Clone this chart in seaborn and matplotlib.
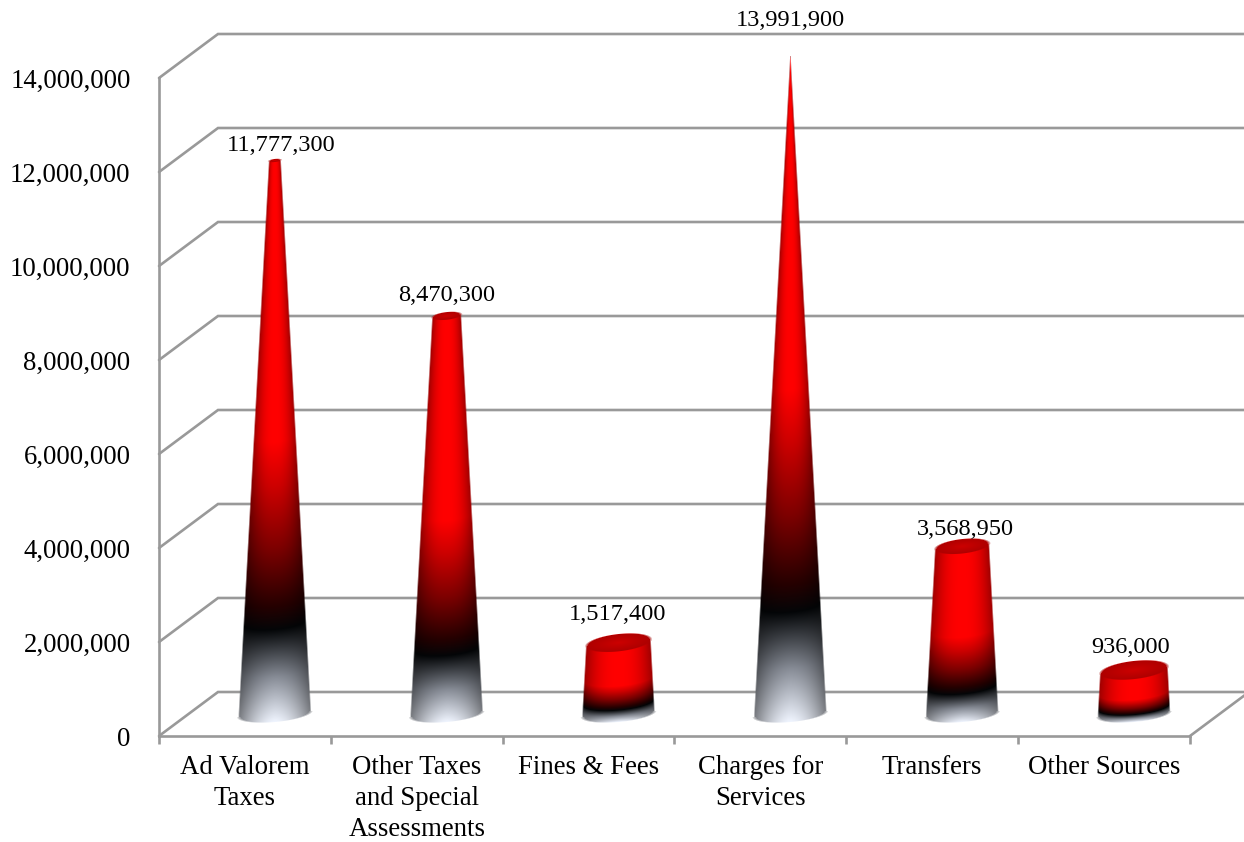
import numpy as np
import pandas as pd
import matplotlib
matplotlib.use("Agg")
import matplotlib.pyplot as plt
from matplotlib.lines import Line2D
from matplotlib.transforms import IdentityTransform
import seaborn as sns

# Revenue by source
categories = ["Ad Valorem\nTaxes", "Other Taxes\nand Special\nAssessments", "Fines & Fees",
              "Charges for\nServices", "Transfers", "Other Sources"]
revenues = [11777300, 8470300, 1517400, 13991900, 3568950, 936000]
axis_ticks = [0, 2000000, 4000000, 6000000, 8000000, 10000000, 12000000, 14000000]

# Hand placement of the value labels, in pixels relative to the cone top
label_nudge = [(6, 15), (0, 20), (-1, 28), (0, 36), (3, 17), (-3, 23)]

W, H = 1244, 842
DEPTH_X, DEPTH_Y = 59, 44          # depth of the fake 3D box
GRID = "#999999"
LINE_W = 1.9
BASE_HALF_WIDTH = 36.0

sns.set_theme(style="white")
plt.rcParams["font.family"] = ["Liberation Serif", "DejaVu Serif"]

fig = plt.figure(figsize=(W / 100, H / 100), dpi=100, facecolor="white")
ax = fig.add_axes([159 / W, (H - 736) / H, 1031 / W, 658 / H])

df = pd.DataFrame({"source": categories, "revenue": revenues})
sns.barplot(data=df, x="source", y="revenue", ax=ax)
bars = list(ax.patches)
for bar in bars:
    bar.set_visible(False)

ax.set_xlim(-0.5, len(categories) - 0.5)
ax.set_ylim(axis_ticks[0], axis_ticks[-1])
ax.set_autoscale_on(False)
ax.set_xlabel("")
ax.set_ylabel("")
ax.set_facecolor("none")
for name in ("top", "right"):
    ax.spines[name].set_visible(False)
for name in ("left", "bottom"):
    ax.spines[name].set_color(GRID)
    ax.spines[name].set_linewidth(LINE_W)

ax.set_yticks(axis_ticks)
ax.set_yticklabels([f"{v:,}" for v in axis_ticks], fontsize=19.3, color="black")
ax.tick_params(axis="y", length=0, pad=20.5)
ax.set_xticks(range(len(categories)))
ax.set_xticklabels(categories, fontsize=19.3, color="black", linespacing=1.3)
ax.tick_params(axis="x", which="major", length=0, pad=14)
ax.set_xticks(np.arange(-0.5, len(categories)), minor=True)
ax.tick_params(axis="x", which="minor", length=5.5, width=LINE_W, color=GRID, bottom=True)


def to_px(x, y):
    return ax.transData.transform((x, y))


# Wall and floor lines of the box
x_left, x_right = ax.get_xlim()
for v in axis_ticks:
    fx, fy = to_px(x_left, v)
    xs = [fx, fx + DEPTH_X, W + 10]
    ys = [fy, fy + DEPTH_Y, fy + DEPTH_Y]
    ax.add_line(Line2D(xs, ys, transform=IdentityTransform(), color=GRID, lw=LINE_W,
                       clip_on=False, zorder=1, solid_joinstyle="miter"))
rx, ry = to_px(x_right, 0)
ax.add_line(Line2D([rx, rx + DEPTH_X], [ry, ry + DEPTH_Y], transform=IdentityTransform(),
                   color=GRID, lw=LINE_W, clip_on=False, zorder=1))

# Vertical colour ramp along a cone: t runs from base (0) to top (1)
ramp_t = [0.0, 0.08, 0.165, 0.21, 0.31, 0.42, 0.50, 1.0]
ramp_r = [240, 135, 4, 40, 125, 205, 255, 255]
ramp_g = [245, 140, 6, 0, 0, 0, 0, 0]
ramp_b = [255, 150, 8, 0, 0, 0, 0, 0]

tip_height = to_px(0, max(revenues))[1] - to_px(0, 0)[1]
tilt = np.tan(np.radians(5.0))


def soft(d):
    return np.clip(d + 0.5, 0.0, 1.0)


def draw_cone(center, value, zorder=3):
    cx, cy = to_px(center, 0)
    cx += DEPTH_X / 2 + 0.5
    cy += DEPTH_Y / 2
    height = to_px(center, value)[1] - to_px(center, 0)[1]

    x0, x1 = int(cx - 46), int(cx + 46)
    y0, y1 = int(cy - 14), int(cy + height + 16)
    X, Y = np.meshgrid(np.arange(x0, x1) + 0.5, np.arange(y0, y1) + 0.5)
    dx, dy = X - cx, Y - cy

    half = np.maximum(BASE_HALF_WIDTH * (1 - np.maximum(dy, 0) / tip_height), 0.01)
    u = np.clip(dx / half, -1, 1)
    tilted = dy - tilt * dx
    bulge = 0.22 * half * np.sqrt(1 - u ** 2)
    t = np.clip((tilted + bulge) / height, 0, 1)

    # Lower, lighter part of the ramp falls off more broadly across the width
    shade_low = 1 - 0.50 * np.abs(u) ** 1.7
    shade_high = 1 - 0.38 * np.abs(u) ** 2.4
    mix = np.clip(t / 0.2, 0, 1)[..., None]
    rgb = np.dstack([np.interp(t, ramp_t, ramp_r), np.interp(t, ramp_t, ramp_g),
                     np.interp(t, ramp_t, ramp_b)])
    rgb = rgb * ((1 - mix) * shade_low[..., None] + mix * shade_high[..., None])

    # Outline: tapered sides, rounded base
    side = np.clip((half - np.abs(dx)) / 1.6 + 0.5, 0, 1)
    base_rad = np.hypot(dx / BASE_HALF_WIDTH, tilted / 8.0)
    base = soft((1 - base_rad) * 8.0)
    alpha = np.where(tilted >= 0, side, base)

    # Cut the body at the top plane and lay the darker cap over it
    top_half = max(BASE_HALF_WIDTH * (1 - value / max(revenues)), 0.01)
    top_b = max(0.27 * top_half, 0.01)
    cap_y = dy - height - tilt * 1.2 * dx
    cap_rad = np.hypot(dx / top_half, cap_y / top_b)
    cap = soft((1 - cap_rad) * max(top_b, 1.0))
    alpha = np.where(cap_y > 0, 0.0, alpha)
    cap_shade = 0.80 - 0.12 * np.clip(cap_rad, 0, 1)
    rgb[..., 0] = rgb[..., 0] * (1 - cap) + 255 * cap_shade * cap
    rgb[..., 1] *= (1 - cap)
    rgb[..., 2] *= (1 - cap)
    alpha = np.maximum(alpha, cap)

    rgba = np.dstack([rgb / 255.0, alpha])
    ax.imshow(np.clip(rgba, 0, 1), origin="lower", extent=(x0, x1, y0, y1),
              transform=IdentityTransform(), aspect="auto", interpolation="none",
              zorder=zorder, clip_on=False)
    return cx, cy + height


for bar, nudge in zip(bars, label_nudge):
    center = bar.get_x() + bar.get_width() / 2
    value = bar.get_height()
    tip_x, tip_y = draw_cone(center, value)
    ax.annotate(f"{int(value):,}", xy=(tip_x + nudge[0], tip_y + nudge[1]),
                xycoords=IdentityTransform(), ha="center", va="center",
                fontsize=17.6, color="black", annotation_clip=False, zorder=6)

fig.savefig("out.png", dpi=100, facecolor="white")
